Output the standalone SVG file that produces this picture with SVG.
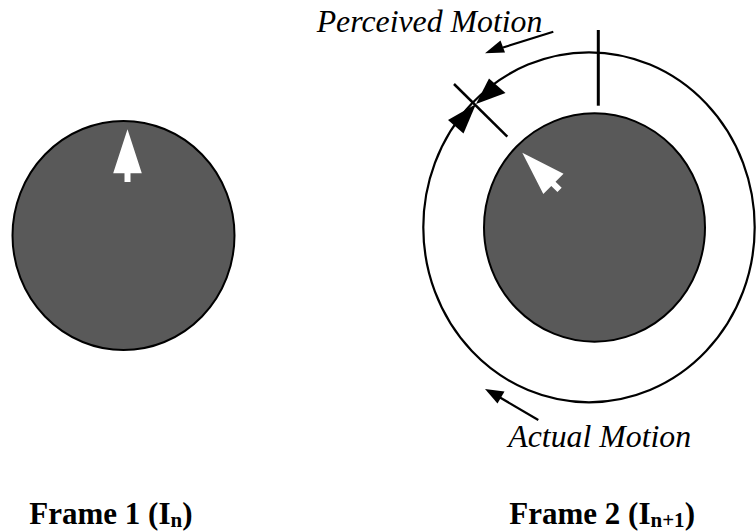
<svg xmlns="http://www.w3.org/2000/svg" width="756" height="531" viewBox="0 0 756 531">
<style>
.disk{fill:#595959;stroke:#000;stroke-width:2}
.ring{fill:none;stroke:#000;stroke-width:2.2}
.ptr{fill:#fff}
.ln{stroke:#000;stroke-width:2.2;fill:none}
.ah{fill:#000}
.lbl{font-family:"Liberation Serif","Times New Roman",serif;font-style:italic;font-size:31.8px;fill:#000}
.cap{font-family:"Liberation Serif","Times New Roman",serif;font-weight:bold;font-size:31px;fill:#000}
</style>
<defs>
<polygon id="pointer" points="0,0 14.3,44 3,44 3,52.7 -3,52.7 -3,44 -14.3,44"/>
</defs>
<g id="frame1">
<ellipse class="disk" cx="123.5" cy="235.5" rx="111" ry="114.5"/>
<use href="#pointer" class="ptr" transform="translate(127.5,129.3)"/>
<text class="cap" x="29.3" y="524">Frame 1 (I<tspan font-size="21" dy="2.5">n</tspan><tspan dy="-2.5">)</tspan></text>
</g>
<g id="frame2">
<ellipse class="ring" cx="589" cy="227.3" rx="165.7" ry="175"/>
<ellipse class="disk" cx="594.5" cy="227.5" rx="110.5" ry="114.2"/>
<use href="#pointer" class="ptr" transform="translate(522.3,152.7) rotate(-45)"/>
<text class="cap" x="509.3" y="524">Frame 2 (I<tspan font-size="21" dy="2.5">n+1</tspan><tspan dy="-2.5">)</tspan></text>
</g>
<g id="connectors">
<line class="ln" x1="598.3" y1="30" x2="598.3" y2="105.7" style="stroke-width:3"/>
<line class="ln" x1="454" y1="84" x2="507.3" y2="136.7" style="stroke-width:2.5"/>
<polygon class="ah" points="476,104 489,78.5 505.5,93"/>
<polygon class="ah" points="476,104 463.5,133.5 448,120"/>
<g id="perceived">
<line class="ln" x1="553.3" y1="31.7" x2="503" y2="47.5"/>
<polygon class="ah" points="485,53.3 500.5,40.5 505,52.5"/>
<text class="lbl" x="316.7" y="31.7">Perceived Motion</text>
</g>
<g id="actual">
<line class="ln" x1="538.3" y1="420" x2="500" y2="397.5"/>
<polygon class="ah" points="485,389 504.5,391.5 497.5,403.5"/>
<text class="lbl" x="508.3" y="447.3">Actual Motion</text>
</g>
</g>
</svg>
